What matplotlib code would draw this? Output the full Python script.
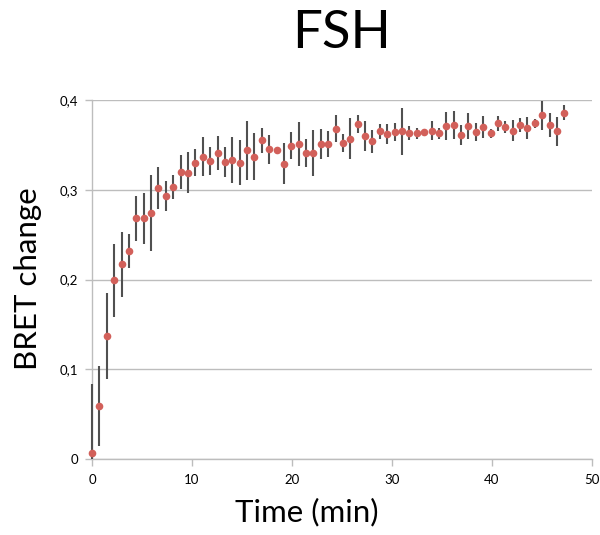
import matplotlib
matplotlib.use("Agg")
import matplotlib.pyplot as plt
from matplotlib.ticker import FuncFormatter

plt.rcParams['font.family'] = ['Lato', 'DejaVu Sans']

time_min = [0.00, 0.74, 1.48, 2.21, 2.95, 3.69, 4.43, 5.17, 5.90, 6.64,
            7.38, 8.12, 8.86, 9.59, 10.33, 11.07, 11.81, 12.55, 13.28, 14.02,
            14.76, 15.50, 16.24, 16.97, 17.71, 18.45, 19.19, 19.93, 20.66, 21.40,
            22.14, 22.88, 23.62, 24.35, 25.09, 25.83, 26.57, 27.31, 28.04, 28.78,
            29.52, 30.26, 31.00, 31.73, 32.47, 33.21, 33.95, 34.69, 35.42, 36.16,
            36.90, 37.64, 38.38, 39.11, 39.85, 40.59, 41.33, 42.07, 42.80, 43.54,
            44.28, 45.02, 45.76, 46.49, 47.23]

bret_change = [0.007, 0.059, 0.137, 0.199, 0.217, 0.232, 0.268, 0.268, 0.274, 0.302,
               0.293, 0.303, 0.320, 0.319, 0.330, 0.337, 0.332, 0.341, 0.331, 0.333,
               0.330, 0.344, 0.337, 0.355, 0.345, 0.344, 0.329, 0.349, 0.351, 0.341,
               0.341, 0.351, 0.351, 0.368, 0.352, 0.357, 0.373, 0.360, 0.354, 0.365,
               0.362, 0.364, 0.365, 0.363, 0.363, 0.364, 0.366, 0.363, 0.371, 0.372,
               0.361, 0.371, 0.364, 0.370, 0.363, 0.374, 0.370, 0.366, 0.372, 0.369,
               0.374, 0.383, 0.372, 0.365, 0.386]

bret_err = [0.077, 0.045, 0.048, 0.041, 0.036, 0.019, 0.025, 0.028, 0.042, 0.023,
            0.017, 0.013, 0.019, 0.023, 0.015, 0.022, 0.016, 0.019, 0.017, 0.026,
            0.025, 0.033, 0.026, 0.014, 0.016, 0.004, 0.023, 0.015, 0.025, 0.016,
            0.026, 0.017, 0.014, 0.015, 0.010, 0.023, 0.010, 0.017, 0.013, 0.008,
            0.011, 0.010, 0.026, 0.008, 0.006, 0.003, 0.011, 0.006, 0.016, 0.016,
            0.011, 0.014, 0.010, 0.012, 0.005, 0.008, 0.007, 0.012, 0.008, 0.012,
            0.005, 0.016, 0.013, 0.016, 0.008]

x_ticks = [0, 10, 20, 30, 40, 50]
y_ticks = [0, 0.1, 0.2, 0.3, 0.4]

# error bars are cut at the x axis (y = 0) as in the original chart
err_low = [min(e, v) for e, v in zip(bret_err, bret_change)]

fig = plt.figure(figsize=(6.0, 5.35), dpi=100)
ax = fig.add_axes([92/600, 1-459/535, 500/600, 359/535])

ax.errorbar(time_min, bret_change, yerr=[err_low, bret_err], fmt='none',
            ecolor='#505050', elinewidth=1.5, capsize=0, zorder=3, clip_on=False)
ax.plot(time_min, bret_change, 'o', color='#d2605a', markersize=5.5,
        markeredgewidth=0, zorder=4, clip_on=False)

ax.set_xlim(0, 50)
ax.set_ylim(0, 0.4)
ax.set_xticks(x_ticks)
ax.set_yticks(y_ticks)
ax.yaxis.set_major_formatter(FuncFormatter(lambda v, p: '0' if v == 0 else f'{v:.1f}'.replace('.', ',')))
ax.grid(axis='y', color='#bdbdbd', linewidth=1)
ax.set_axisbelow(True)
for s in ['top', 'right']:
    ax.spines[s].set_visible(False)
for s in ['left', 'bottom']:
    ax.spines[s].set_color('#bdbdbd')
    ax.spines[s].set_linewidth(1)
ax.tick_params(axis='both', colors='#bdbdbd', labelcolor='black', labelsize=9.5,
               length=5, width=1)
ax.tick_params(axis='x', pad=6)
ax.tick_params(axis='y', pad=5)

fig.text(342/600, 1-33/535, 'FSH', ha='center', va='center', fontsize=38)
fig.text(307/600, 1-512/535, 'Time (min)', ha='center', va='center', fontsize=22.5)
fig.text(28/600, 1-279/535, 'BRET change', ha='center', va='center', rotation=90, fontsize=22.5)

fig.savefig('out.png', dpi=100)
